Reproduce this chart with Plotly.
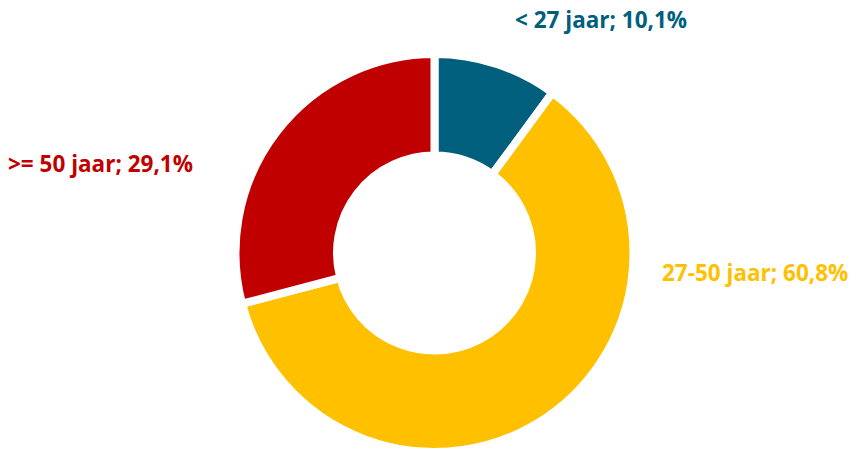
import plotly.graph_objects as go

categories = ["< 27 jaar", "27-50 jaar", ">= 50 jaar"]
values = [10.1, 60.8, 29.1]
colors = ["#005F7C", "#FFC000", "#C00000"]

W, H = 859, 452
cx, cy_top, R = 434.5, 253, 199
cy = H - cy_top

fig = go.Figure(go.Pie(
    labels=categories,
    values=values,
    sort=False,
    direction="clockwise",
    rotation=0,
    hole=0.49,
    marker=dict(colors=colors, line=dict(color="white", width=8)),
    textinfo="none",
    hoverinfo="label+percent",
    showlegend=False,
    domain=dict(x=[(cx - R) / W, (cx + R) / W], y=[max(0, (cy - R) / H), (cy + R) / H]),
))

def fmt(v):
    return f"{v:.1f}".replace(".", ",") + "%"

label_pos = [(601, 19), (755, 272), (100, 163)]
for cat, v, col, (x, y) in zip(categories, values, colors, label_pos):
    fig.add_annotation(
        text=f"{cat}; {fmt(v)}",
        x=x / W, y=1 - y / H, xref="paper", yref="paper",
        xanchor="center", yanchor="middle", showarrow=False,
        font=dict(family="Open Sans", size=22.5, color=col, weight="bold"),
    )

fig.update_layout(
    width=W, height=H,
    margin=dict(l=0, r=0, t=0, b=0),
    paper_bgcolor="white", plot_bgcolor="white",
)
fig.write_html("out.html", config={"displayModeBar": False},
               post_script="document.body.style.margin='0';")
